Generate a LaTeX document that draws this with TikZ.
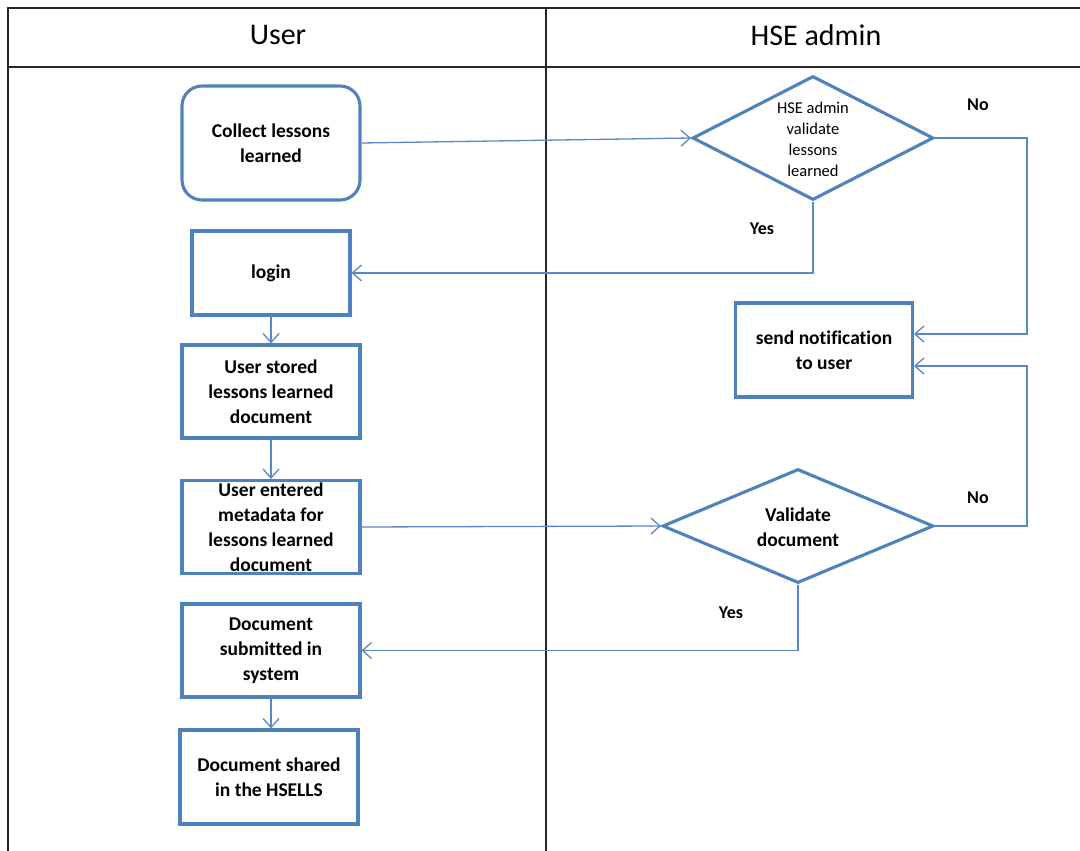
\documentclass[tikz,border=0pt]{standalone}
\usepackage{fontspec}
\setmainfont{Carlito}[Ligatures=CommonOff]
\usetikzlibrary{shapes.geometric,arrows.meta}
\definecolor{boxblue}{HTML}{4F81BD}
\definecolor{lineblue}{HTML}{5A88C4}
\begin{document}
\begin{tikzpicture}[x=1pt,y=-1pt,
  box/.style={draw=boxblue, line width=3.1pt, align=center,
    font=\fontsize{19.5}{25}\selectfont\bfseries, inner sep=0},
  dia/.style={diamond, draw=boxblue, line width=3.1pt, inner sep=0, aspect=1.94},
  conn/.style={draw=lineblue, line width=1.3pt},
  arr/.style={conn,-{Straight Barb[length=9pt,width=16pt,line width=1.3pt]}},
  lbl/.style={font=\fontsize{18}{22}\selectfont\bfseries},
  lane/.style={draw=black!85, line width=2pt},
  hdr/.style={font=\fontsize{30}{36}\selectfont}]
\useasboundingbox (0,0) rectangle (1080,851);
% swimlanes
\draw[lane] (8,851) -- (8,8) -- (1080,8);
\draw[lane] (8,67) -- (1080,67);
\draw[lane] (546,8) -- (546,851);
\node[hdr] (huser) at (278,35) {User};
\node[hdr] (hadmin) at (816,35) {HSE admin};
% user lane
\node[box, rounded corners=20pt, minimum width=178, minimum height=114] (collect) at (271,143) {Collect lessons\\learned};
\node[box, minimum width=158, minimum height=84] (login) at (271,273) {login};
\node[box, minimum width=178, minimum height=93] (stored) at (271,391.5) {User stored\\lessons learned\\document};
\node[box, minimum width=178, minimum height=93] (meta) at (271,527) {User entered\\metadata for\\lessons learned\\document};
\node[box, minimum width=178, minimum height=93] (submitted) at (271,650.5) {Document\\submitted in\\system};
\node[box, minimum width=178, minimum height=94] (shared) at (269,777) {Document shared\\in the HSELLS};
% admin lane
\node[dia, minimum width=241, minimum height=124] (d1) at (813,138) {};
\node[align=center, font=\fontsize{16.5}{20.8}\selectfont] (d1t) at (813,139.5) {HSE admin\\validate\\lessons\\learned};
\node[box, minimum width=177, minimum height=94] (notif) at (824,350) {send notification\\to user};
\node[dia, minimum width=271, minimum height=114] (d2) at (798,526) {};
\node[align=center, font=\fontsize{19.5}{25}\selectfont\bfseries] (d2t) at (798,527.5) {Validate\\document};
% labels
\node[lbl] (yes1) at (762,229) {Yes};
\node[lbl] (no1) at (978,105) {No};
\node[lbl] (no2) at (978,498) {No};
\node[lbl] (yes2) at (731,613) {Yes};
% helper coordinates
\coordinate (noA) at (1027,334);
\coordinate (noB) at (1027,366);
% connectors
\draw[arr] (collect.east) -- (d1.west);
\draw[arr] (d1.south) |- (login.east);
\draw[arr] (d1.east) -| (noA) -- (noA -| notif.east);
\draw[arr] (d2.east) -| (noB) -- (noB -| notif.east);
\draw[arr] (login.south) -- (stored.north);
\draw[arr] (stored.south) -- (meta.north);
\draw[arr] (meta.east) -- (d2.west);
\draw[arr] (d2.south) |- (submitted.east);
\draw[arr] (submitted.south) -- (submitted.south |- shared.north);
\end{tikzpicture}
\end{document}
